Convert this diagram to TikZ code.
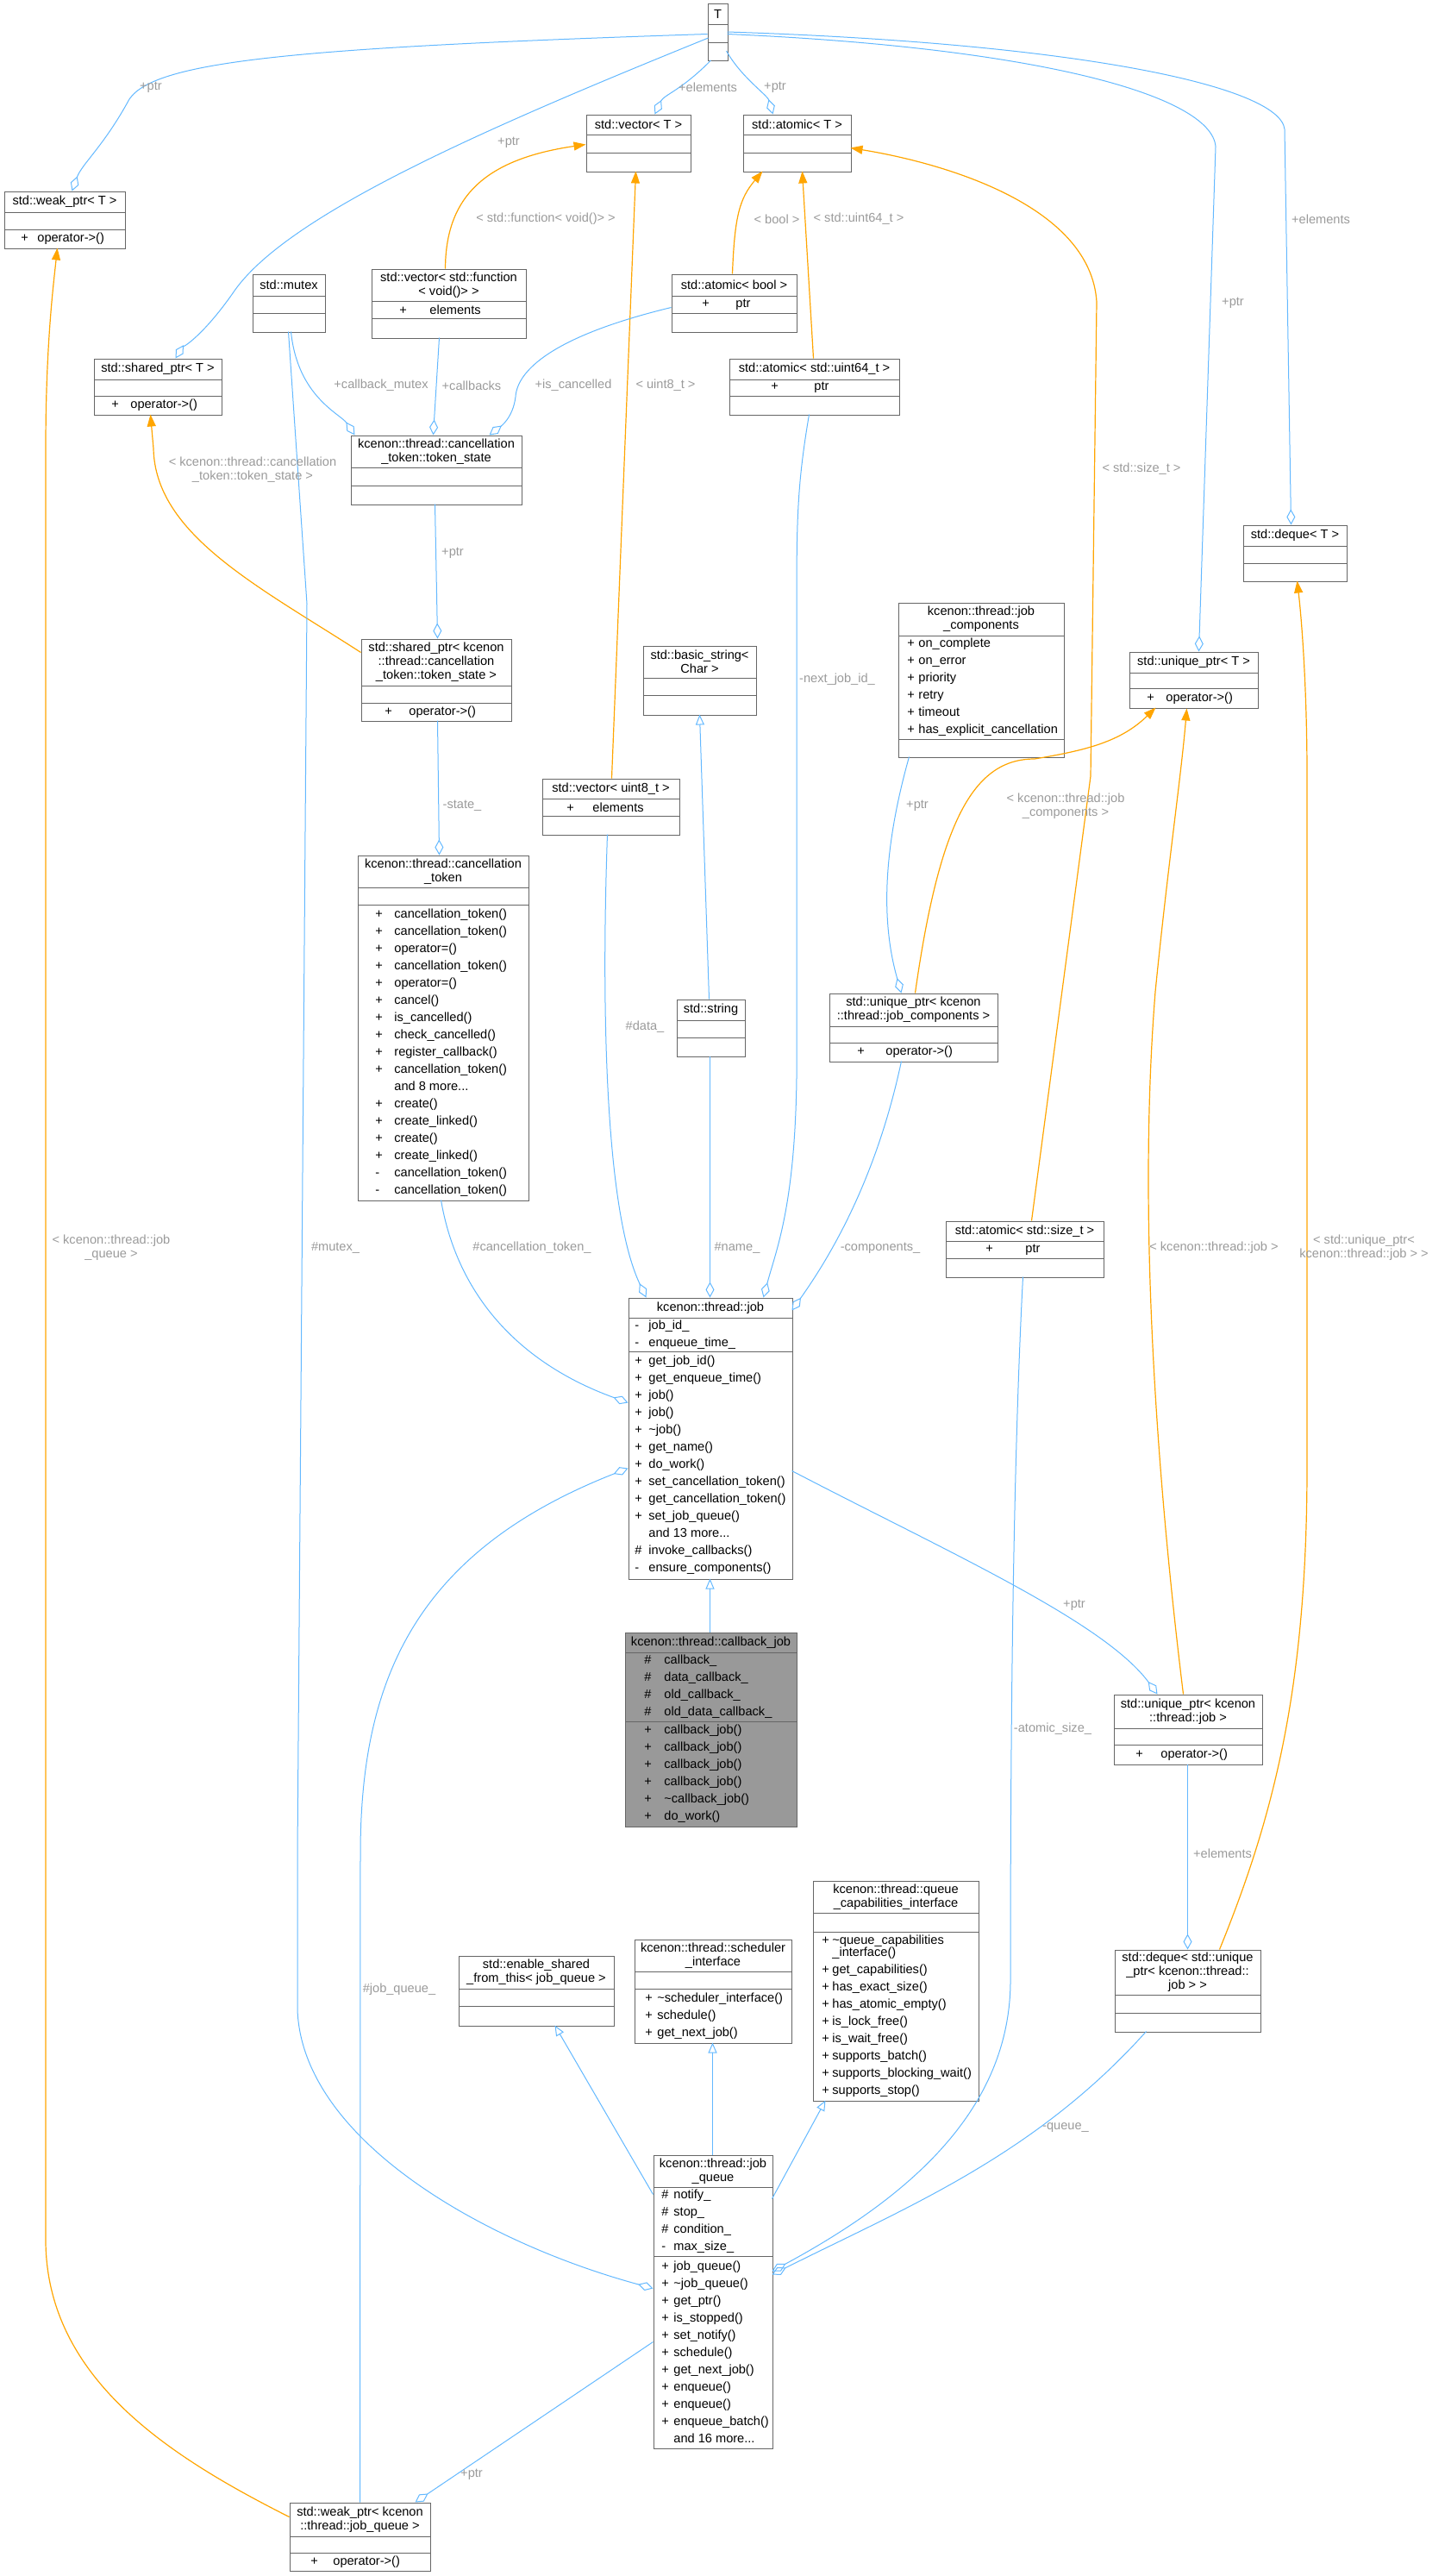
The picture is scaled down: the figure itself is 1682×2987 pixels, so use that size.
\documentclass[tikz,border=0pt]{standalone}
\usepackage{fontspec}
\setmainfont{Liberation Sans}
\usetikzlibrary{arrows.meta,fit,calc}
\definecolor{eb}{HTML}{63B8FF}
\definecolor{eo}{HTML}{FFA500}
\definecolor{bx}{HTML}{666666}
\definecolor{lb}{HTML}{9A9A9A}
\definecolor{cbg}{HTML}{999999}
\newcommand\mf{\fontsize{7.3}{10}\selectfont}
\newcommand\tf{\fontsize{7.3}{8}\selectfont}
\newcommand\rw[4]{\hspace*{\dimexpr #1pt/2\relax}\makebox[\dimexpr (#2pt-#1pt)/2\relax][l]{#3}#4}
\newcommand\cls[9]{%
 \coordinate (#1-nw) at (#2,#3);
 \coordinate (#1-se) at (#2+#4,#3+#5+#6+#7);
 \node[box,fit=(#1-nw)(#1-se)] (#1) {};
 \draw[boxline] (#2,#3+#5) -- ++(#4,0) (#2,#3+#5+#6) -- ++(#4,0);
 \node[ttl] (#1-t) at (#2+#4/2,#3+#5/2) {#8};
 \node[mem] (#1-at) at (#2,#3+#5+#6/2) {#9};
 \coordinate (#1-m) at (#2,#3+#5+#6+#7/2);}
\newcommand\mth[2]{\node[mem] (#1-mt) at (#1-m) {#2};}
\newcommand\at[3]{($(#1.north west)+(#2,#3)$)}
\tikzset{
 box/.style={draw=bx, line width=0.5pt, inner sep=0pt},
 boxline/.style={draw=bx, line width=0.5pt},
 ttl/.style={font=\tf, align=center, inner sep=0pt},
 mem/.style={font=\mf, align=left, inner sep=0pt, anchor=west},
 lbl/.style={font=\tf, text=lb, align=center, inner sep=0pt},
 agg/.style={draw=eb, line width=0.5pt, -{Diamond[open,length=9pt,width=5pt]}},
 inh/.style={draw=eb, line width=0.5pt, -{Triangle[open,length=6pt,width=5pt]}},
 tpl/.style={draw=eo, line width=0.6pt, -{Triangle[length=7pt,width=5pt,fill=eo]}},
}
\begin{document}
\begin{tikzpicture}[x=0.5pt,y=-0.5pt]
\useasboundingbox (0,0) rectangle (1682,2987);
% ---------- classes
\cls{T}{821}{4.5}{23}{24}{21}{21}{T}{}
\def\R{\rw{19}{38}}
\cls{wpT}{5}{222}{140}{24}{20}{22}{std::weak\_ptr< T >}{}
\mth{wpT}{\R{+}{operator->()}}
\cls{vT}{680}{133}{121}{23}{21}{22}{std::vector< T >}{}
\cls{aT}{862}{133}{125}{23}{21}{22}{std::atomic< T >}{}
\cls{mtx}{293}{318}{84}{25}{20}{22}{std::mutex}{}
\def\R{\rw{32}{67}}
\cls{vf}{431}{312}{179}{37}{20}{23}{std::vector< std::function\\< void()> >}{\R{+}{elements}}
\def\R{\rw{35}{74}}
\cls{ab}{779}{318}{145}{25}{20}{22}{std::atomic< bool >}{\R{+}{ptr}}
\def\R{\rw{20}{42}}
\cls{spT}{109}{416}{148}{24}{19}{22}{std::shared\_ptr< T >}{}
\mth{spT}{\R{+}{operator->()}}
\def\R{\rw{48}{98}}
\cls{au}{846}{416}{197}{24}{19}{22}{std::atomic< std::uint64\_t >}{\R{+}{ptr}}
\cls{ts}{407}{505}{198}{37}{21}{22}{kcenon::thread::cancellation\\\_token::token\_state}{}
\cls{dT}{1442}{609}{120}{24}{20}{21}{std::deque< T >}{}
\def\R{\rw{27}{55}}
\cls{sts}{419}{741}{174}{54}{20}{21}{std::shared\_ptr< kcenon\\::thread::cancellation\\\_token::token\_state >}{}
\mth{sts}{\R{+}{operator->()}}
\cls{bs}{746}{749}{131}{37}{20}{23}{std::basic\_string<\\Char >}{}
\def\R{\rw{10}{23}}
\cls{jc}{1042}{699}{192}{38}{120}{21}{kcenon::thread::job\\\_components}{\R{+}{on\_complete}\\\R{+}{on\_error}\\\R{+}{priority}\\\R{+}{retry}\\\R{+}{timeout}\\\R{+}{has\_explicit\_cancellation}}
\def\R{\rw{20}{42}}
\cls{uT}{1310}{756}{149}{24}{18}{23}{std::unique\_ptr< T >}{}
\mth{uT}{\R{+}{operator->()}}
\def\R{\rw{28}{58}}
\cls{vu}{629}{903}{159}{23}{20}{22}{std::vector< uint8\_t >}{\R{+}{elements}}
\def\R{\rw{20}{42}}
\cls{ct}{415}{992}{198}{37}{20}{343}{kcenon::thread::cancellation\\\_token}{}
\mth{ct}{\R{+}{cancellation\_token()}\\\R{+}{cancellation\_token()}\\\R{+}{operator=()}\\\R{+}{cancellation\_token()}\\\R{+}{operator=()}\\\R{+}{cancel()}\\\R{+}{is\_cancelled()}\\\R{+}{check\_cancelled()}\\\R{+}{register\_callback()}\\\R{+}{cancellation\_token()}\\\R{}{and 8 more...}\\\R{+}{create()}\\\R{+}{create\_linked()}\\\R{+}{create()}\\\R{+}{create\_linked()}\\\R{-}{cancellation\_token()}\\\R{-}{cancellation\_token()}}
\cls{str}{785}{1159}{79}{24}{20}{22}{std::string}{}
\def\R{\rw{32}{65}}
\cls{ujc}{962}{1152}{195}{38}{19}{22}{std::unique\_ptr< kcenon\\::thread::job\_components >}{}
\mth{ujc}{\R{+}{operator->()}}
\def\R{\rw{46}{92}}
\cls{as}{1097}{1416}{183}{23}{20}{22}{std::atomic< std::size\_t >}{\R{+}{ptr}}
\def\R{\rw{7}{23}}
\cls{job}{729}{1505}{190}{23}{39}{264}{kcenon::thread::job}{\R{-}{job\_id\_}\\\R{-}{enqueue\_time\_}}
\mth{job}{\R{+}{get\_job\_id()}\\\R{+}{get\_enqueue\_time()}\\\R{+}{job()}\\\R{+}{job()}\\\R{+}{\textasciitilde job()}\\\R{+}{get\_name()}\\\R{+}{do\_work()}\\\R{+}{set\_cancellation\_token()}\\\R{+}{get\_cancellation\_token()}\\\R{+}{set\_job\_queue()}\\\R{}{and 13 more...}\\\R{\#}{invoke\_callbacks()}\\\R{-}{ensure\_components()}}
\fill[cbg] (725,1893) rectangle ++(199,225);
\def\R{\rw{22}{45}}
\cls{cb}{725}{1893}{199}{23}{80}{122}{kcenon::thread::callback\_job}{\R{\#}{callback\_}\\\R{\#}{data\_callback\_}\\\R{\#}{old\_callback\_}\\\R{\#}{old\_data\_callback\_}}
\mth{cb}{\R{+}{callback\_job()}\\\R{+}{callback\_job()}\\\R{+}{callback\_job()}\\\R{+}{callback\_job()}\\\R{+}{\textasciitilde callback\_job()}\\\R{+}{do\_work()}}
\def\R{\rw{25}{54}}
\cls{uj}{1292}{1965}{172}{39}{19}{23}{std::unique\_ptr< kcenon\\::thread::job >}{}
\mth{uj}{\R{+}{operator->()}}
\def\R{\rw{10}{22}}
\cls{qc}{943}{2181}{192}{37}{22}{196}{kcenon::thread::queue\\\_capabilities\_interface}{}
\mth{qc}{\R{+}{\textasciitilde queue\_capabilities}\\[-3pt]\R{}{\_interface()}\\\R{+}{get\_capabilities()}\\\R{+}{has\_exact\_size()}\\\R{+}{has\_atomic\_empty()}\\\R{+}{is\_lock\_free()}\\\R{+}{is\_wait\_free()}\\\R{+}{supports\_batch()}\\\R{+}{supports\_blocking\_wait()}\\\R{+}{supports\_stop()}}
\def\R{\rw{12}{26}}
\cls{sch}{736}{2249}{182}{37}{20}{63}{kcenon::thread::scheduler\\\_interface}{}
\mth{sch}{\R{+}{\textasciitilde scheduler\_interface()}\\\R{+}{schedule()}\\\R{+}{get\_next\_job()}}
\cls{es}{532}{2268}{180}{38}{20}{23}{std::enable\_shared\\\_from\_this< job\_queue >}{}
\cls{dup}{1293}{2261}{169}{52}{21}{22}{std::deque< std::unique\\\_ptr< kcenon::thread::\\job > >}{}
\def\R{\rw{9}{23}}
\cls{jq}{758}{2499}{138}{37}{80}{223}{kcenon::thread::job\\\_queue}{\R{\#}{notify\_}\\\R{\#}{stop\_}\\\R{\#}{condition\_}\\\R{-}{max\_size\_}}
\mth{jq}{\R{+}{job\_queue()}\\\R{+}{\textasciitilde job\_queue()}\\\R{+}{get\_ptr()}\\\R{+}{is\_stopped()}\\\R{+}{set\_notify()}\\\R{+}{schedule()}\\\R{+}{get\_next\_job()}\\\R{+}{enqueue()}\\\R{+}{enqueue()}\\\R{+}{enqueue\_batch()}\\\R{}{and 16 more...}}
\def\R{\rw{24}{50}}
\cls{wpj}{336}{2902}{163}{39}{19}{21}{std::weak\_ptr< kcenon\\::thread::job\_queue >}{}
\mth{wpj}{\R{+}{operator->()}}
% ---------- connectors
\draw[agg] \at{T}{0}{35.5} .. controls (350,55) and (180,70) .. (150,115) .. controls (120,170) and (95,190) .. \at{wpT}{79}{0};
\draw[agg] \at{T}{1}{40} .. controls (560,150) and (330,250) .. (270,340) .. controls (235,390) and (210,405) .. \at{spT}{95}{0};
\draw[agg] \at{T}{4}{66} .. controls (790,105) and (770,110) .. \at{vT}{80}{0};
\draw[agg] \at{T}{22}{55} .. controls (860,90) and (890,110) .. \at{aT}{35}{0};
\draw[agg] \at{T}{23}{35.5} .. controls (1200,55) and (1405,110) .. (1410,170) -- \at{uT}{81}{0};
\draw[agg] \at{T}{23}{33} .. controls (1250,50) and (1485,100) .. (1490,150) -- \at{dT}{56}{0};
\draw[tpl] \at{vf}{86}{0} .. controls (517,230) and (560,185) .. \at{vT}{0}{35};
\draw[tpl] \at{ab}{71}{0} .. controls (852,250) and (858,230) .. \at{aT}{23}{66};
\draw[tpl] \at{au}{98}{0} -- \at{aT}{69}{66};
\draw[tpl] \at{vu}{81}{0} -- \at{vT}{58}{66};
\draw[tpl] \at{as}{100}{0} -- (1265,900) -- (1272,350) .. controls (1265,240) and (1100,190) .. \at{aT}{125}{39};
\draw[agg] \at{mtx}{45}{67} .. controls (345,460) and (395,480) .. \at{ts}{5}{0};
\draw[agg] \at{vf}{79}{80} -- \at{ts}{96}{0};
\draw[agg] \at{ab}{0}{39} .. controls (640,390) and (600,430) .. (598,460) .. controls (595,485) and (580,495) .. \at{ts}{161}{0};
\draw[agg] \at{ts}{98}{80} -- \at{sts}{89}{0};
\draw[tpl] \at{sts}{0}{16} .. controls (300,680) and (180,620) .. (178,520) -- \at{spT}{66}{65};
\draw[agg] \at{sts}{89}{95} -- \at{ct}{95}{0};
\draw[tpl] \at{wpj}{0}{17} .. controls (200,2850) and (55,2760) .. (53,2600) -- (53,520) .. controls (53,400) and (62,330) .. \at{wpT}{62}{66};
\draw[agg] \at{mtx}{42}{67} -- (356,700) -- (345,2150) -- (345,2330) .. controls (350,2480) and (560,2600) .. \at{jq}{0}{155};
\draw[agg] \at{wpj}{82}{0} -- (418,2150) .. controls (418,1950) and (480,1800) .. \at{job}{0}{198};
\draw[agg] \at{jq}{0}{217} -- \at{wpj}{146}{0};
\draw[agg] \at{ct}{97}{400} .. controls (530,1500) and (600,1580) .. \at{job}{0}{122};
\draw[agg] \at{vu}{76}{65} .. controls (698,1150) and (700,1400) .. \at{job}{21}{0};
\draw[agg] \at{str}{39}{66} -- \at{job}{95}{0};
\draw[inh] \at{str}{38}{0} -- \at{bs}{66}{80};
\draw[agg] \at{au}{93}{65} .. controls (925,560) and (924,600) .. (924,700) -- (924,1250) .. controls (922,1400) and (900,1450) .. \at{job}{157}{0};
\draw[agg] \at{ujc}{84}{79} .. controls (1020,1350) and (975,1440) .. \at{job}{190}{15};
\draw[agg] \at{jc}{13}{179} .. controls (1020,1000) and (1025,1080) .. \at{ujc}{84}{0};
\draw[tpl] \at{ujc}{100}{0} .. controls (1090,950) and (1130,880) .. (1200,880) .. controls (1260,870) and (1300,860) .. \at{uT}{31}{65};
\draw[tpl] \at{uj}{81}{0} .. controls (1340,1700) and (1320,1400) .. (1340,1150) .. controls (1355,1000) and (1370,900) .. \at{uT}{67}{66};
\draw[agg] \at{job}{190}{201} .. controls (1100,1800) and (1280,1880) .. \at{uj}{51}{0};
\draw[inh] \at{cb}{99}{0} -- \at{job}{95}{326};
\draw[agg] \at{as}{90}{65} .. controls (1175,1700) and (1172,2000) .. (1172,2300) .. controls (1170,2450) and (1050,2550) .. \at{jq}{138}{135};
\draw[tpl] \at{dup}{122}{0} .. controls (1480,2100) and (1516,1950) .. (1516,1700) -- (1516,900) .. controls (1516,800) and (1510,720) .. \at{dT}{63}{65};
\draw[agg] \at{uj}{86}{81} -- \at{dup}{85}{0};
\draw[agg] \at{dup}{37}{95} .. controls (1200,2500) and (1050,2560) .. \at{jq}{138}{139};
\draw[inh] \at{jq}{0}{46} -- \at{es}{112}{81};
\draw[inh] \at{jq}{69}{0} -- \at{sch}{91}{120};
\draw[inh] \at{jq}{138}{51} -- \at{qc}{15}{255};
% ---------- labels
\node[lbl] (l1) at (175,101) {+ptr};
\node[lbl] (l2) at (590,165) {+ptr};
\node[lbl] (l3) at (821,101) {+elements};
\node[lbl] (l4) at (899,101) {+ptr};
\node[lbl] (l5) at (633,254) {< std::function< void()> >};
\node[lbl] (l6) at (901,254) {< bool >};
\node[lbl] (l7) at (996,254) {< std::uint64\_t >};
\node[lbl] (l8) at (1532,254) {+elements};
\node[lbl] (l9) at (1430,351) {+ptr};
\node[lbl] (l10) at (442,447) {+callback\_mutex};
\node[lbl] (l11) at (547,447) {+callbacks};
\node[lbl] (l12) at (665,447) {+is\_cancelled};
\node[lbl] (l13) at (772,447) {< uint8\_t >};
\node[lbl] (l14) at (293,545) {< kcenon::thread::cancellation\\\_token::token\_state >};
\node[lbl] (l15) at (1324,544) {< std::size\_t >};
\node[lbl] (l16) at (525,641) {+ptr};
\node[lbl] (l17) at (536,934) {-state\_};
\node[lbl] (l18) at (971,788) {-next\_job\_id\_};
\node[lbl] (l19) at (1064,934) {+ptr};
\node[lbl] (l20) at (1236,935) {< kcenon::thread::job\\\_components >};
\node[lbl] (l21) at (748,1191) {\#data\_};
\node[lbl] (l22) at (129,1447) {< kcenon::thread::job\\\_queue >};
\node[lbl] (l23) at (389,1447) {\#mutex\_};
\node[lbl] (l24) at (617,1447) {\#cancellation\_token\_};
\node[lbl] (l25) at (855,1447) {\#name\_};
\node[lbl] (l26) at (1021,1447) {-components\_};
\node[lbl] (l27) at (1408,1447) {< kcenon::thread::job >};
\node[lbl] (l28) at (1582,1447) {< std::unique\_ptr<\\kcenon::thread::job > >};
\node[lbl] (l29) at (1246,1861) {+ptr};
\node[lbl] (l30) at (1221,2005) {-atomic\_size\_};
\node[lbl] (l31) at (1418,2149) {+elements};
\node[lbl] (l32) at (463,2307) {\#job\_queue\_};
\node[lbl] (l33) at (1236,2467) {-queue\_};
\node[lbl] (l34) at (547,2869) {+ptr};
\end{tikzpicture}
\end{document}
